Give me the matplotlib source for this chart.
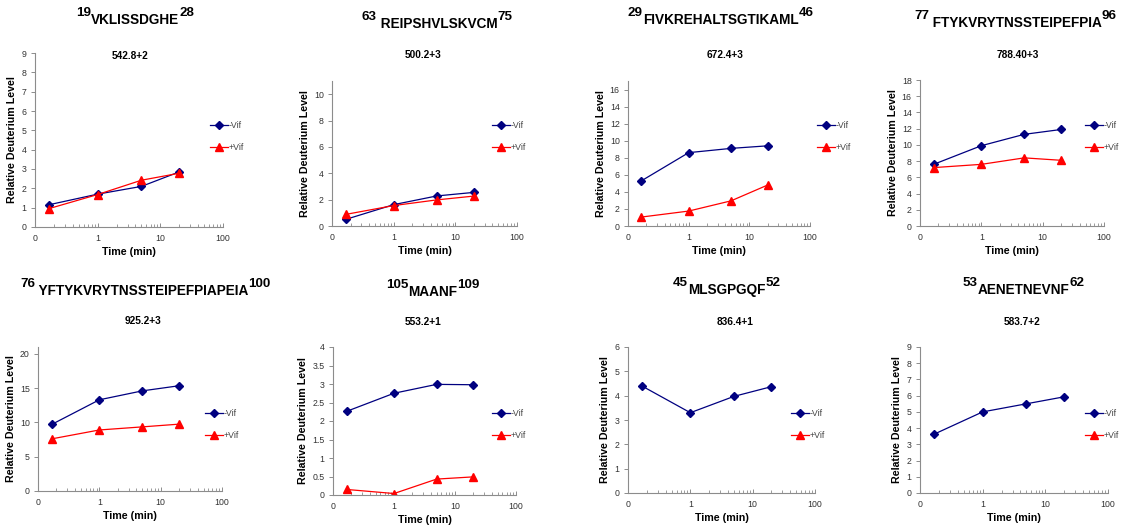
import matplotlib
matplotlib.use('Agg')
import matplotlib.pyplot as plt
from matplotlib.ticker import FixedLocator, FixedFormatter, LogLocator, NullFormatter

plt.rcParams['font.family'] = ['Liberation Sans', 'DejaVu Sans']

W, H = 1125, 529

# time points (min): 10 s, 1, 5, 20 min
times = [0.1667, 1, 5, 20]

starts = ['19', '63', '29', '77', '76', '105', '45', '53']
seqs = ['VKLISSDGHE', ' REIPSHVLSKVCM', 'FIVKREHALTSGTIKAML', ' FTYKVRYTNSSTEIPEFPIA',
        ' YFTYKVRYTNSSTEIPEFPIAPEIA', 'MAANF', 'MLSGPGQF', 'AENETNEVNF']
ends = ['28', '75', '46', '96', '100', '109', '52', '62']
masses = ['542.8+2', '500.2+3', '672.4+3', '788.40+3', '925.2+3', '553.2+1', '836.4+1', '583.7+2']

minus_vif = [
    [1.15, 1.70, 2.10, 2.85],
    [0.50, 1.62, 2.28, 2.55],
    [5.30, 8.60, 9.10, 9.40],
    [7.60, 9.90, 11.30, 11.90],
    [9.70, 13.30, 14.60, 15.35],
    [2.26, 2.75, 2.99, 2.98],
    [4.40, 3.30, 3.97, 4.37],
    [3.62, 5.00, 5.50, 5.93],
]
plus_vif = [
    [0.95, 1.68, 2.42, 2.78],
    [0.88, 1.55, 1.98, 2.27],
    [1.05, 1.75, 2.95, 4.80],
    [7.20, 7.60, 8.40, 8.10],
    [7.60, 8.90, 9.35, 9.75],
    [0.15, 0.04, 0.43, 0.49],
    [],
    [],
]
ymax = [9, 11, 17, 18, 21, 4, 6, 9]
ystep = [1, 2, 2, 2, 5, 0.5, 1, 1]

# layout in pixels: axes (left, right, top, bottom), title left/baseline, subtitle centre, legend corner
axes_px = [(35, 223, 53, 227), (332, 517, 81, 226), (628, 810, 81, 226), (920, 1104, 80, 226),
           (38, 222, 347, 491), (333, 516, 347, 495), (628, 815, 347, 493), (920, 1108, 347, 493)]
title_px = [(76, 24), (362, 28), (628, 24), (914, 27), (20, 295), (386, 296), (673, 294), (963, 294)]
sub_px = [(130, 56), (423, 55), (725, 55), (1018, 55), (143, 321), (423, 322), (735, 322), (1022, 322)]
leg_px = [(210, 121), (492, 121), (817, 121), (1085, 121), (205, 409), (492, 409), (791, 409), (1085, 409)]

fig = plt.figure(figsize=(W / 100, H / 100), dpi=100)
grey = '#8c8c8c'

for i in range(8):
    l, r, t, b = axes_px[i]
    ax = fig.add_axes([l / W, 1 - b / H, (r - l) / W, (b - t) / H])
    ax.plot(times, minus_vif[i], color='#000080', marker='D', markersize=3.8, lw=0.9, label='-Vif')
    if plus_vif[i]:
        ax.plot(times, plus_vif[i], color='#ff0000', marker='^', markersize=5.5, lw=0.9, label='+Vif')
    else:
        ax.plot([], [], color='#ff0000', marker='^', markersize=5.5, lw=0.9, label='+Vif')

    ax.set_xscale('log')
    ax.set_xlim(0.1, 100)
    ax.set_ylim(0, ymax[i])
    ax.xaxis.set_major_locator(FixedLocator([0.1, 1, 10, 100]))
    ax.xaxis.set_major_formatter(FixedFormatter(['0', '1', '10', '100']))
    ax.xaxis.set_minor_locator(LogLocator(base=10, subs=range(2, 10)))
    ax.xaxis.set_minor_formatter(NullFormatter())
    yt = []
    v = 0
    while v <= ymax[i] + 1e-9:
        yt.append(v)
        v += ystep[i]
    ax.set_yticks(yt)
    ax.set_yticklabels(['%g' % y for y in yt])

    for s in ['top', 'right']:
        ax.spines[s].set_visible(False)
    for s in ['left', 'bottom']:
        ax.spines[s].set_color(grey)
        ax.spines[s].set_linewidth(0.8)
    ax.tick_params(axis='y', direction='out', length=3, width=0.7, color=grey,
                   labelsize=6.3, labelcolor='#333333', pad=3)
    ax.tick_params(axis='x', which='major', direction='in', length=3, width=0.7, color=grey,
                   labelsize=6.3, labelcolor='#333333', pad=5)
    ax.tick_params(axis='x', which='minor', direction='in', length=2, width=0.6, color=grey)

    ax.set_xlabel('Time (min)', fontsize=7.7, fontweight='bold', labelpad=3)
    ax.set_ylabel('Relative Deuterium Level', fontsize=7.7, fontweight='bold', labelpad=3)

    lx, ly = leg_px[i]
    ax.legend(loc='upper left', bbox_to_anchor=(lx / W, 1 - ly / H), bbox_transform=fig.transFigure,
              frameon=False, fontsize=6.3, labelspacing=1.5, handlelength=2.0, handletextpad=0.1,
              borderpad=0, borderaxespad=0, labelcolor='#444444')

    # subtitle (mass + charge)
    sx, sy = sub_px[i]
    fig.text(sx / W, 1 - sy / H, masses[i], ha='center', va='center', fontsize=7.3, fontweight='bold')

    # peptide title with residue numbers raised
    tx, ty = title_px[i]
    t1 = fig.text(tx / W, 1 - (ty - 8) / H, starts[i], ha='left', va='baseline',
                  fontsize=9.6, fontweight='bold')
    a2 = ax.annotate(seqs[i], xy=(1, 0), xycoords=t1, xytext=(0, -5.8), textcoords='offset points',
                     ha='left', va='bottom', fontsize=9.8, fontweight='bold', annotation_clip=False)
    ax.annotate(ends[i], xy=(1, 0), xycoords=a2, xytext=(0, 5.8), textcoords='offset points',
                ha='left', va='bottom', fontsize=9.6, fontweight='bold', annotation_clip=False)

fig.savefig('out.png', dpi=100)
